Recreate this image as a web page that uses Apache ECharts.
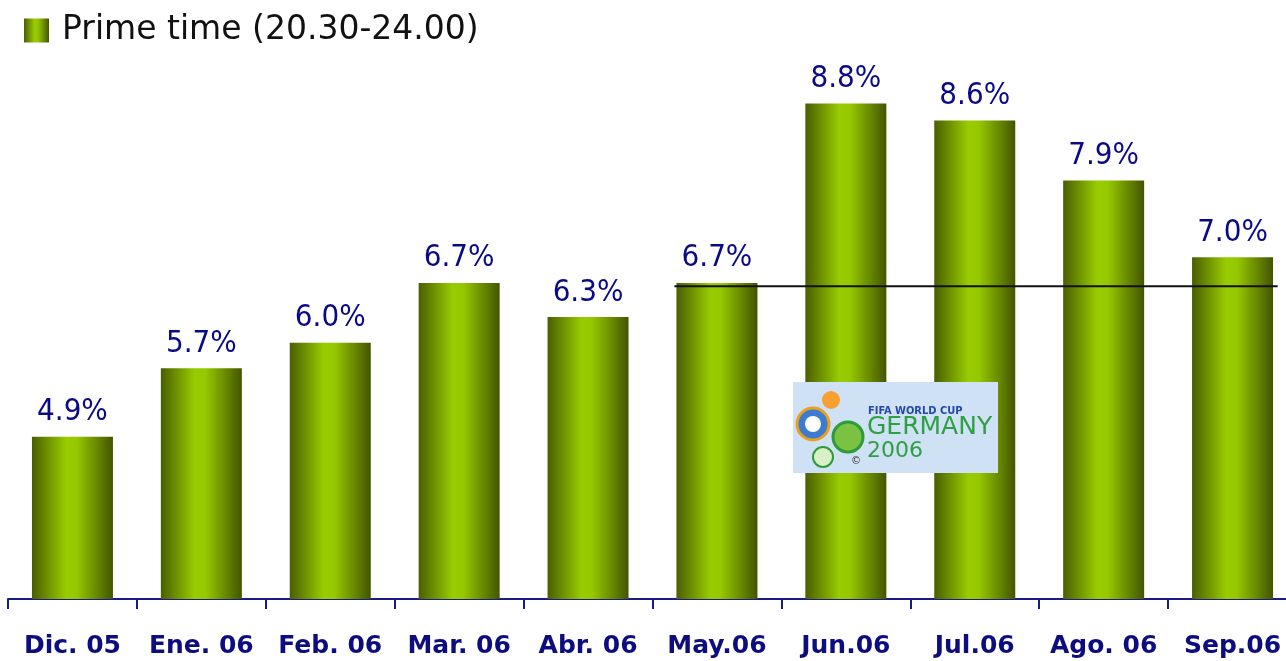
<!DOCTYPE html>
<html>
<head>
<meta charset="utf-8">
<script src="https://cdn.jsdelivr.net/npm/echarts@6/dist/echarts.min.js"></script>
<style>
  html, body { margin: 0; padding: 0; background: #fff; }
  #main { width: 1286px; height: 661px; }
</style>
</head>
<body>
<div id="main"></div>
<script>
// months on the x axis
const months = ['Dic. 05', 'Ene. 06', 'Feb. 06', 'Mar. 06', 'Abr. 06', 'May.06', 'Jun.06', 'Jul.06', 'Ago. 06', 'Sep.06']
// prime time share, %
const primeTime = [4.9, 5.7, 6.0, 6.7, 6.3, 6.7, 8.8, 8.6, 7.9, 7.0]
// reference line: level and span (in category units, 0..10)
const refLevel = 6.66
const refSpan = [5.17, 9.85]

let chartDom = document.getElementById('main')
let myChart = echarts.init(chartDom)
let option

const barGradient = new echarts.graphic.LinearGradient(0, 0, 1, 0, [
  { offset: 0, color: '#4a5e00' },
  { offset: 0.42, color: '#99cc00' },
  { offset: 0.55, color: '#96c800' },
  { offset: 1, color: '#435500' }
])

option = {
  animation: false,
  backgroundColor: '#fff',
  legend: {
    left: 19,
    top: 9,
    itemWidth: 25,
    itemHeight: 24,
    icon: 'rect',
    textStyle: {
      fontFamily: 'DejaVu Sans',
      fontSize: 33,
      color: '#111',
      padding: [0, 0, 0, 8]
    },
    data: ['Prime time (20.30-24.00)']
  },
  grid: {
    left: 8,
    width: 1289,
    top: 1,
    bottom: 62,
    outerBoundsMode: 'none'
  },
  xAxis: [
    {
      type: 'category',
      data: months,
      axisLine: { lineStyle: { color: '#1a1a8a', width: 2 } },
      axisTick: { show: true, interval: 0, length: 10, lineStyle: { color: '#1a1a8a', width: 2 } },
      axisLabel: {
        interval: 0,
        margin: 35,
        color: '#0d0d80',
        fontFamily: 'DejaVu Sans',
        fontWeight: 'bold',
        fontSize: 25
      }
    },
    {
      type: 'value',
      min: 0,
      max: 10,
      show: false
    }
  ],
  yAxis: {
    type: 'value',
    min: 3,
    max: 10,
    show: false,
    splitLine: { show: false }
  },
  series: [
    {
      name: 'Prime time (20.30-24.00)',
      type: 'bar',
      data: primeTime,
      barWidth: 81,
      itemStyle: { color: barGradient },
      label: {
        show: true,
        position: 'top',
        distance: 9,
        formatter: p => p.value.toFixed(1) + '%',
        color: '#0a0a88',
        fontFamily: 'DejaVu Sans Condensed',
        fontSize: 31
      }
    },
    {
      type: 'line',
      xAxisIndex: 1,
      data: [[refSpan[0], refLevel], [refSpan[1], refLevel]],
      symbol: 'none',
      lineStyle: { color: '#111', width: 2 },
      z: 5,
      silent: true
    }
  ],
  graphic: [
    {
      type: 'group',
      left: 793,
      top: 382,
      z: 100,
      children: [
        { type: 'rect', z: 100, shape: { x: 0, y: 0, width: 205, height: 91 }, style: { fill: '#cfe1f4' } },
        { type: 'circle', z: 101, shape: { cx: 20, cy: 42, r: 16 }, style: { fill: '#3b7bd0', stroke: '#e8a020', lineWidth: 3 } },
        { type: 'circle', z: 102, shape: { cx: 20, cy: 42, r: 8 }, style: { fill: '#ffffff' } },
        { type: 'circle', z: 101, shape: { cx: 38, cy: 18, r: 9 }, style: { fill: '#f5a030' } },
        { type: 'circle', z: 101, shape: { cx: 55, cy: 55, r: 15 }, style: { fill: '#7cc242', stroke: '#2e9a3a', lineWidth: 3 } },
        { type: 'circle', z: 101, shape: { cx: 30, cy: 75, r: 10 }, style: { fill: '#d8efc8', stroke: '#2e9a3a', lineWidth: 2 } },
        { type: 'text', z: 103, style: { x: 75, y: 24, text: 'FIFA WORLD CUP', fill: '#2548a8', font: 'bold 11px "DejaVu Sans Condensed"' } },
        { type: 'text', z: 103, style: { x: 74, y: 33, text: 'GERMANY', fill: '#2ea043', font: '25px "DejaVu Sans"' } },
        { type: 'text', z: 103, style: { x: 74, y: 58, text: '2006', fill: '#2ea043', font: '22px "DejaVu Sans"' } },
        { type: 'text', z: 103, style: { x: 58, y: 74, text: '©', fill: '#333', font: '10px "DejaVu Sans"' } }
      ]
    }
  ]
}

option && myChart.setOption(option)
</script>
</body>
</html>
